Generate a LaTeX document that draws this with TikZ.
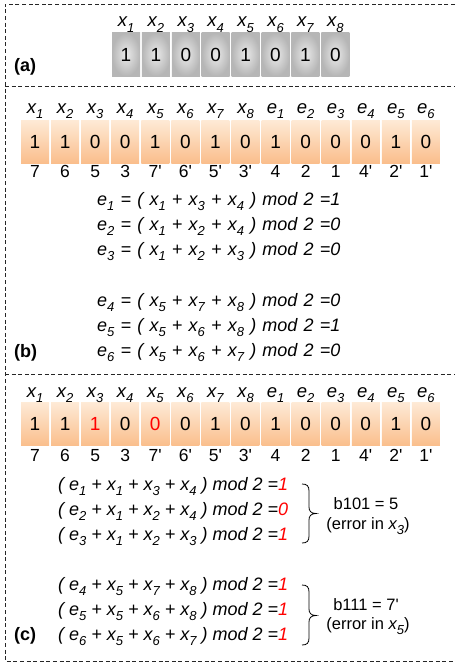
\documentclass[tikz,border=0pt]{standalone}
\usepackage{fontspec}
\setmainfont{Liberation Sans}

% lowered index for x_i, e_i
\newcommand{\lo}[1]{\raisebox{-0.32em}{\fontsize{13}{13}\selectfont #1}}
\newcommand{\hl}[1]{\textcolor{red}{#1}}
\newcommand{\pr}{\textquotesingle}

\definecolor{celltop}{RGB}{254,234,214}
\definecolor{cellbot}{RGB}{250,190,140}
\definecolor{greyin}{RGB}{234,234,234}
\definecolor{greyout}{RGB}{182,182,182}

\tikzset{
  frame/.style={line width=0.9pt, dash pattern=on 4pt off 2.6pt, black!85},
  cellbase/.style={minimum width=28pt, minimum height=43pt, inner sep=0pt,
    font=\fontsize{19}{19}\selectfont},
  greycell/.style={cellbase, shading=radial, inner color=greyin, outer color=greyout},
  orcell/.style={cellbase, top color=celltop, bottom color=cellbot},
  varlab/.style={anchor=base, inner sep=0pt, font=\fontsize{18.5}{18.5}\selectfont\itshape},
  poslab/.style={anchor=base, inner sep=0pt, font=\fontsize{17.5}{17.5}\selectfont},
  eqn/.style={anchor=base west, inner sep=0pt, font=\fontsize{18}{18}\selectfont\itshape},
  wide/.style={execute at begin node={\spaceskip=6.2pt plus 1pt}},
  note/.style={anchor=base, inner sep=0pt, font=\fontsize{16.5}{16.5}\selectfont},
  part/.style={anchor=base west, inner sep=0pt, font=\fontsize{18}{18}\selectfont\bfseries},
  brc/.style={line width=0.8pt}
}

\begin{document}
\begin{tikzpicture}[x=1pt,y=-1pt]
\useasboundingbox (0,0) rectangle (455,669);

% dashed panel frame
\draw[frame] (455,4) -- (5,4) -- (5,661) -- (455,661);
\draw[frame] (5,86) -- (455,86);
\draw[frame] (5,374) -- (455,374);

% ---- (a) data word ----
\foreach \v [count=\i] in {1,1,0,0,1,0,1,0} {
  \node[greycell] (a\i) at ({126+29.9*(\i-1)},54.5) {\v};
  \node[varlab] (al\i) at ({126+29.9*(\i-1)},27) {x\lo{\i}};
}
\node[part] (pa) at (14,71) {(a)};

% ---- (b) encoded word ----
\foreach \l/\s/\v/\n [count=\i] in {x/1/1/7,x/2/1/6,x/3/0/5,x/4/0/3,
    x/5/1/7\pr,x/6/0/6\pr,x/7/1/5\pr,x/8/0/3\pr,
    e/1/1/4,e/2/0/2,e/3/0/1,e/4/0/4\pr,e/5/1/2\pr,e/6/0/1\pr} {
  \node[orcell] (b\i) at ({35+30.07*(\i-1)},141.5) {\v};
  \node[varlab] (bl\i) at ({35+30.07*(\i-1)},113) {\l\lo{\s}};
  \node[poslab] (bn\i) at ({35+30.07*(\i-1)},177) {\n};
}
\node[eqn,wide] (be1) at (97,205) {e\lo{1} = ( x\lo{1} + x\lo{3} + x\lo{4} ) mod 2 =1};
\node[eqn,wide] (be2) at (97,230) {e\lo{2} = ( x\lo{1} + x\lo{2} + x\lo{4} ) mod 2 =0};
\node[eqn,wide] (be3) at (97,255) {e\lo{3} = ( x\lo{1} + x\lo{2} + x\lo{3} ) mod 2 =0};
\node[eqn,wide] (be4) at (97,306) {e\lo{4} = ( x\lo{5} + x\lo{7} + x\lo{8} ) mod 2 =0};
\node[eqn,wide] (be5) at (97,331) {e\lo{5} = ( x\lo{5} + x\lo{6} + x\lo{8} ) mod 2 =1};
\node[eqn,wide] (be6) at (97,356) {e\lo{6} = ( x\lo{5} + x\lo{6} + x\lo{7} ) mod 2 =0};
\node[part] (pb) at (14,357) {(b)};

% ---- (c) received word with two flipped bits ----
\foreach \l/\s/\v/\n [count=\i] in {x/1/1/7,x/2/1/6,x/3/\hl{1}/5,x/4/0/3,
    x/5/\hl{0}/7\pr,x/6/0/6\pr,x/7/1/5\pr,x/8/0/3\pr,
    e/1/1/4,e/2/0/2,e/3/0/1,e/4/0/4\pr,e/5/1/2\pr,e/6/0/1\pr} {
  \node[orcell] (c\i) at ({35+30.07*(\i-1)},424) {\v};
  \node[varlab] (cl\i) at ({35+30.07*(\i-1)},397) {\l\lo{\s}};
  \node[poslab] (cn\i) at ({35+30.07*(\i-1)},461) {\n};
}
\node[eqn] (ce1) at (58,490) {( e\lo{1} + x\lo{1} + x\lo{3} + x\lo{4} ) mod 2 =\hl{1}};
\node[eqn] (ce2) at (58,515) {( e\lo{2} + x\lo{1} + x\lo{2} + x\lo{4} ) mod 2 =\hl{0}};
\node[eqn] (ce3) at (58,540) {( e\lo{3} + x\lo{1} + x\lo{2} + x\lo{3} ) mod 2 =\hl{1}};
\node[eqn] (ce4) at (58,590) {( e\lo{4} + x\lo{5} + x\lo{7} + x\lo{8} ) mod 2 =\hl{1}};
\node[eqn] (ce5) at (58,615) {( e\lo{5} + x\lo{5} + x\lo{6} + x\lo{8} ) mod 2 =\hl{1}};
\node[eqn] (ce6) at (58,640) {( e\lo{6} + x\lo{5} + x\lo{6} + x\lo{7} ) mod 2 =\hl{1}};
\node[part] (pc) at (14,640) {(c)};

% syndrome braces (top hook, straight run, middle tip, straight run, bottom hook)
\draw[brc] (302,484) .. controls (307,484) and (309,486) .. (309,491)
  -- (309,507) .. controls (309,511) and (311,513.5) .. (316,513.5)
  .. controls (311,513.5) and (309,516) .. (309,520)
  -- (309,536) .. controls (309,541) and (307,543) .. (302,543);
\draw[brc] (302,585) .. controls (307,585) and (309,587) .. (309,592)
  -- (309,609) .. controls (309,613) and (311,615.5) .. (316,615.5)
  .. controls (311,615.5) and (309,618) .. (309,622)
  -- (309,638) .. controls (309,643) and (307,645) .. (302,645);

\node[note] (r1) at (366,509) {b101 = 5};
\node[note] (r1e) at (368,529) {(error in \textit{x\lo{3}})};
\node[note] (r2) at (366,610) {b111 = 7\pr};
\node[note] (r2e) at (368,629) {(error in \textit{x\lo{5}})};
\end{tikzpicture}
\end{document}
